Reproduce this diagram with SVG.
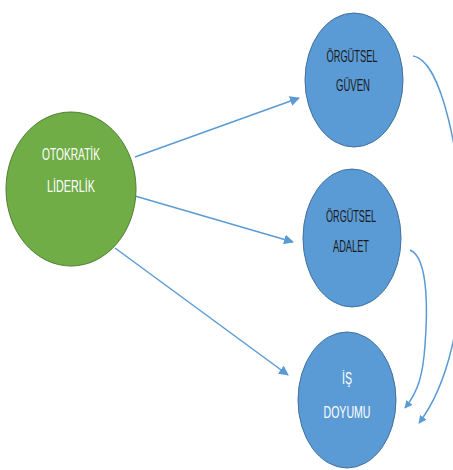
<svg xmlns="http://www.w3.org/2000/svg" width="453" height="470" viewBox="0 0 453 470">
<style>
.blue{fill:#5b9bd5;stroke:#41719c;stroke-width:1}
.green{fill:#70ad47;stroke:#507e32;stroke-width:1}
.t{font-family:"Liberation Sans","DejaVu Sans",sans-serif;font-size:17px;text-anchor:middle}
.w{fill:#ffffff}
.d{fill:#1a1a1a}
.c{fill:none;stroke:#5b9bd5;stroke-width:1.5}
</style>
<defs>
<marker id="ah" viewBox="0 0 10 10" refX="9" refY="5" markerWidth="8" markerHeight="8" markerUnits="userSpaceOnUse" orient="auto">
<path d="M0,0 L10,5 L0,10 z" fill="#5b9bd5"/>
</marker>
<marker id="ah2" viewBox="0 0 10 10" refX="9" refY="5" markerWidth="10" markerHeight="10" markerUnits="userSpaceOnUse" orient="auto">
<path d="M0,0 L10,5 L0,10 z" fill="#5b9bd5"/>
</marker>
</defs>
<rect width="453" height="470" fill="#ffffff"/>
<g id="connectors">
<line class="c" x1="135" y1="157" x2="299" y2="98" marker-end="url(#ah2)"/>
<line class="c" x1="135" y1="196" x2="293" y2="242" marker-end="url(#ah2)"/>
<line class="c" x1="115" y1="248" x2="288" y2="375" marker-end="url(#ah2)"/>
<path class="c" d="M413,56 C442,60 462,160 463,240 C463,320 448,385 419,423" marker-end="url(#ah)"/>
<path class="c" d="M410,250 C430,258 427,320 425,345 C423,375 418,392 405,408" marker-end="url(#ah)"/>
</g>
<g id="otokratik">
<ellipse class="green" cx="71" cy="189" rx="65" ry="77"/>
<text class="t w" x="71" y="160" textLength="58" lengthAdjust="spacingAndGlyphs">OTOKRATİK</text>
<text class="t w" x="71" y="192" textLength="48" lengthAdjust="spacingAndGlyphs">LİDERLİK</text>
</g>
<g id="guven">
<ellipse class="blue" cx="354" cy="80" rx="49" ry="67"/>
<text class="t d" x="352" y="62" textLength="51" lengthAdjust="spacingAndGlyphs">ÖRGÜTSEL</text>
<text class="t d" x="353" y="91" textLength="34" lengthAdjust="spacingAndGlyphs">GÜVEN</text>
</g>
<g id="adalet">
<ellipse class="blue" cx="352" cy="238" rx="49" ry="69"/>
<text class="t d" x="351" y="222" textLength="50" lengthAdjust="spacingAndGlyphs">ÖRGÜTSEL</text>
<text class="t d" x="351" y="252" textLength="36" lengthAdjust="spacingAndGlyphs">ADALET</text>
</g>
<g id="doyumu">
<ellipse class="blue" cx="347" cy="400" rx="49" ry="68"/>
<text class="t w" x="347" y="384" textLength="10" lengthAdjust="spacingAndGlyphs">İŞ</text>
<text class="t w" x="347" y="418" textLength="47" lengthAdjust="spacingAndGlyphs">DOYUMU</text>
</g>
</svg>
